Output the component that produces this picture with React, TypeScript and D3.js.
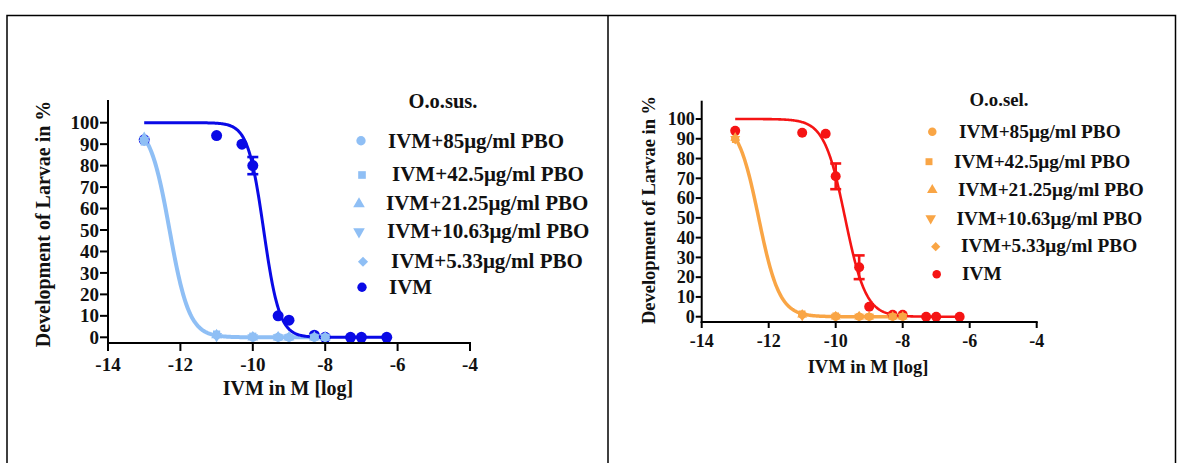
import React from "react";
import * as d3 from "d3";

// ---------- data ----------
const seriesNames = [
  "IVM+85μg/ml PBO",
  "IVM+42.5μg/ml PBO",
  "IVM+21.25μg/ml PBO",
  "IVM+10.63μg/ml PBO",
  "IVM+5.33μg/ml PBO",
  "IVM",
];
const panelTitles = ["O.o.sus.", "O.o.sel."];
const xAxisTitle = "IVM in M [log]";
const yAxisTitle = "Development of Larvae in %";
const xTicks = [-14, -12, -10, -8, -6, -4];
const yTicks = [0, 10, 20, 30, 40, 50, 60, 70, 80, 90, 100];

const ivmConc = [-13, -11, -10.3, -10, -9.3, -9, -8.3, -8, -7.3, -7, -6.3];
const susIVM = [92, 94, 90, 80, 10, 8, 1, 0, 0, 0, 0];
const susIVMErr = [0, 0, 0, 4, 0, 0, 0, 0, 0, 0, 0];
const selIVM = [94, 93, 92.5, 71, 25, 5, 1, 1, 0, 0, 0];
const selIVMErr = [0, 0, 0, 6.5, 6, 0, 0, 0, 0, 0, 0];

const pboConc = [-13, -11, -10, -9.3, -9, -8.3, -8];
const susPBO85 = [91.5, 1, 0, 0, 0, 0, 0];
const susPBO42 = [91, 1.5, 0.5, 0, 0, 0, 0];
const susPBO21 = [93, 1, 0, 0, 0, 0, 0];
const susPBO10 = [92, 0.5, 0, 0, 0, 0, 0];
const susPBO5 = [91.5, 1, 0.5, 0.5, 0, 0, 0];
const selPBO85 = [90, 1, 0, 0, 0, 0, 0];
const selPBO42 = [89.5, 1.5, 0.5, 0, 0, 0, 0];
const selPBO21 = [90.5, 1, 0, 0, 0, 0, 0];
const selPBO10 = [90, 0.5, 0, 0, 0, 0, 0];
const selPBO5 = [89.5, 1, 0.5, 0.5, 0, 0, 0];

// fitted sigmoid (top, bottom, logEC50, hill slope)
const susIVMFit = [100, 0, -9.7, 2.0];
const susPBOFit = [100, 0, -12.3, 1.6];
const selIVMFit = [100, 0, -9.72, 1.4];
const selPBOFit = [100, 0, -12.3, 1.4];
const ivmFitRange = [-13, -6.3];
const pboFitRange = [-13, -8];

// ---------- layout ----------
const FONT = "'Liberation Serif', 'Times New Roman', serif";

type Panel = {
  title: string;
  ivm: number[];
  ivmErr: number[];
  pbo: number[][];
  ivmFit: number[];
  pboFit: number[];
  dark: string;
  light: string;
  xLeft: number;
  xRight: number;
  y0: number;
  y100: number;
  axisTop: number;
  axisY: number;
  tick: number;
  tickFont: number;
  titleFont: number;
  legendFont: number;
  xLabelBase: number;
  xTitleBase: number;
  yTitleX: number;
  yTitleY: number;
  xTitleX: number;
  legendTitleX: number;
  legendTitleY: number;
  legend: { mx: number; my: number; tx: number; ty: number }[];
  r: number;
  ivmW: number;
  pboW: number;
};

const panels: Panel[] = [
  {
    title: panelTitles[0],
    ivm: susIVM,
    ivmErr: susIVMErr,
    pbo: [susPBO85, susPBO42, susPBO21, susPBO10, susPBO5],
    ivmFit: susIVMFit,
    pboFit: susPBOFit,
    dark: "#0a0ae6",
    light: "#8fbff5",
    xLeft: 108,
    xRight: 470,
    y0: 337.3,
    y100: 122.7,
    axisTop: 100,
    axisY: 343,
    tick: 8,
    tickFont: 19,
    titleFont: 20,
    legendFont: 21,
    xLabelBase: 371,
    xTitleBase: 395,
    yTitleX: 50,
    yTitleY: 224,
    xTitleX: 288,
    legendTitleX: 443,
    legendTitleY: 108,
    legend: [
      { mx: 361, my: 140.7, tx: 388, ty: 148 },
      { mx: 362, my: 175, tx: 392, ty: 181 },
      { mx: 359, my: 204, tx: 386, ty: 210 },
      { mx: 359, my: 231.7, tx: 387, ty: 238 },
      { mx: 363, my: 261.7, tx: 391, ty: 268 },
      { mx: 362, my: 287.3, tx: 389, ty: 294 },
    ],
    r: 5.5,
    ivmW: 3,
    pboW: 4,
  },
  {
    title: panelTitles[1],
    ivm: selIVM,
    ivmErr: selIVMErr,
    pbo: [selPBO85, selPBO42, selPBO21, selPBO10, selPBO5],
    ivmFit: selIVMFit,
    pboFit: selPBOFit,
    dark: "#f51414",
    light: "#f9a545",
    xLeft: 701.7,
    xRight: 1036.7,
    y0: 316.7,
    y100: 119,
    axisTop: 100.7,
    axisY: 322,
    tick: 6,
    tickFont: 18,
    titleFont: 18.5,
    legendFont: 19.3,
    xLabelBase: 347,
    xTitleBase: 373,
    yTitleX: 655,
    yTitleY: 210,
    xTitleX: 868,
    legendTitleX: 999,
    legendTitleY: 106,
    legend: [
      { mx: 932.3, my: 131.7, tx: 959, ty: 137.5 },
      { mx: 929, my: 161.7, tx: 954, ty: 167.5 },
      { mx: 932.3, my: 190, tx: 958, ty: 195.5 },
      { mx: 930.7, my: 218.3, tx: 956.5, ty: 225 },
      { mx: 935.7, my: 246.7, tx: 961, ty: 252 },
      { mx: 936.7, my: 274.3, tx: 962, ty: 280 },
    ],
    r: 5,
    ivmW: 2.6,
    pboW: 3.5,
  },
];

// circle, square, triangle, down-triangle, diamond (rotated square), circle
const symbolTypes = [
  { t: d3.symbolCircle, rot: 0, k: 1 },
  { t: d3.symbolSquare, rot: 0, k: 0.85 },
  { t: d3.symbolTriangle, rot: 0, k: 0.85 },
  { t: d3.symbolTriangle, rot: 180, k: 0.85 },
  { t: d3.symbolSquare, rot: 45, k: 0.75 },
  { t: d3.symbolCircle, rot: 0, k: 1 },
];

function sigmoid(p: number[], x: number) {
  const [top, bottom, ec, h] = p;
  return bottom + (top - bottom) / (1 + Math.pow(10, (x - ec) * h));
}

function symbolPath(i: number, r: number) {
  const s = symbolTypes[i];
  const area = Math.PI * r * r * s.k;
  return d3.symbol().type(s.t).size(area)() as string;
}

function PanelView({ p }: { p: Panel }) {
  const x = d3.scaleLinear().domain([-14, -4]).range([p.xLeft, p.xRight]);
  const y = d3.scaleLinear().domain([0, 100]).range([p.y0, p.y100]);
  const line = d3
    .line<number>()
    .x((d) => x(d))
    .curve(d3.curveLinear);
  const ivmXs = d3.range(ivmFitRange[0], ivmFitRange[1] + 1e-9, 0.02);
  const pboXs = d3.range(pboFitRange[0], pboFitRange[1] + 1e-9, 0.02);
  const ivmPath = line.y((d) => y(sigmoid(p.ivmFit, d)))(ivmXs) as string;
  const pboPath = line.y((d) => y(sigmoid(p.pboFit, d)))(pboXs) as string;
  const axisX = x(-14);
  const textStyle = { fontFamily: FONT, fontWeight: 700 as const, fill: "#111" };

  return (
    <g>
      {/* curves */}
      <path d={pboPath} fill="none" stroke={p.light} strokeWidth={p.pboW} />
      <path d={ivmPath} fill="none" stroke={p.dark} strokeWidth={p.ivmW} />

      {/* IVM error bars */}
      {ivmConc.map((c, i) =>
        p.ivmErr[i] > 0 ? (
          <g key={"e" + i} stroke={p.dark} strokeWidth={2.6}>
            <line x1={x(c)} x2={x(c)} y1={y(p.ivm[i] - p.ivmErr[i])} y2={y(p.ivm[i] + p.ivmErr[i])} />
            <line x1={x(c) - 5.5} x2={x(c) + 5.5} y1={y(p.ivm[i] - p.ivmErr[i])} y2={y(p.ivm[i] - p.ivmErr[i])} />
            <line x1={x(c) - 5.5} x2={x(c) + 5.5} y1={y(p.ivm[i] + p.ivmErr[i])} y2={y(p.ivm[i] + p.ivmErr[i])} />
          </g>
        ) : null
      )}

      {/* IVM points */}
      {ivmConc.map((c, i) => (
        <path key={"iv" + i} d={symbolPath(5, p.r)} transform={`translate(${x(c)},${y(p.ivm[i])})`} fill={p.dark} />
      ))}

      {/* PBO points */}
      {[4, 3, 2, 1, 0].map((s) =>
        pboConc.map((c, i) => (
          <path
            key={"pb" + s + "_" + i}
            d={symbolPath(s, p.r * 0.8)}
            transform={`translate(${x(c)},${y(p.pbo[s][i])}) rotate(${symbolTypes[s].rot})`}
            fill={p.light}
          />
        ))
      )}

      {/* axes */}
      <line x1={axisX} x2={axisX} y1={p.axisTop} y2={p.axisY + 1} stroke="#000" strokeWidth={2} />
      <line x1={axisX - 1} x2={x(-4) + 1} y1={p.axisY} y2={p.axisY} stroke="#000" strokeWidth={2} />
      {yTicks.map((t) => (
        <g key={"yt" + t}>
          <line x1={axisX - p.tick} x2={axisX} y1={y(t)} y2={y(t)} stroke="#000" strokeWidth={2} />
          <text
            x={axisX - p.tick - 1}
            y={y(t)}
            dy="0.35em"
            textAnchor="end"
            fontSize={p.tickFont}
            style={textStyle}
          >
            {t}
          </text>
        </g>
      ))}
      {xTicks.map((t) => (
        <g key={"xt" + t}>
          <line x1={x(t)} x2={x(t)} y1={p.axisY} y2={p.axisY + p.tick} stroke="#000" strokeWidth={2} />
          <text x={x(t)} y={p.xLabelBase} textAnchor="middle" fontSize={p.tickFont} style={textStyle}>
            {"-" + Math.abs(t)}
          </text>
        </g>
      ))}
      <text x={p.xTitleX} y={p.xTitleBase} textAnchor="middle" fontSize={p.titleFont} style={textStyle}>
        {xAxisTitle}
      </text>
      <text
        transform={`translate(${p.yTitleX},${p.yTitleY}) rotate(-90)`}
        textAnchor="middle"
        fontSize={p.titleFont}
        style={textStyle}
      >
        {yAxisTitle}
      </text>

      {/* legend */}
      <text x={p.legendTitleX} y={p.legendTitleY} textAnchor="middle" fontSize={p.legendFont - 0.5} style={textStyle}>
        {p.title}
      </text>
      {seriesNames.map((n, i) => (
        <g key={"lg" + i}>
          <path
            d={symbolPath(i, p.r * 0.85)}
            transform={`translate(${p.legend[i].mx},${p.legend[i].my}) rotate(${symbolTypes[i].rot})`}
            fill={i === 5 ? p.dark : p.light}
          />
          <text x={p.legend[i].tx} y={p.legend[i].ty} fontSize={p.legendFont} style={textStyle}>
            {n}
          </text>
        </g>
      ))}
    </g>
  );
}

export default function App() {
  return (
    <svg
      width={1178}
      height={463}
      viewBox="0 0 1178 463"
      style={{ position: "absolute", left: 0, top: 0, background: "#fff" }}
    >
      <rect x={0} y={0} width={1178} height={463} fill="#fff" />
      <path d="M7,475 V15.5 H1175.5 V475" fill="none" stroke="#000" strokeWidth={1.5} />
      <line x1={608} x2={608} y1={15.5} y2={475} stroke="#000" strokeWidth={1.5} />
      {panels.map((p, i) => (
        <PanelView key={i} p={p} />
      ))}
    </svg>
  );
}
